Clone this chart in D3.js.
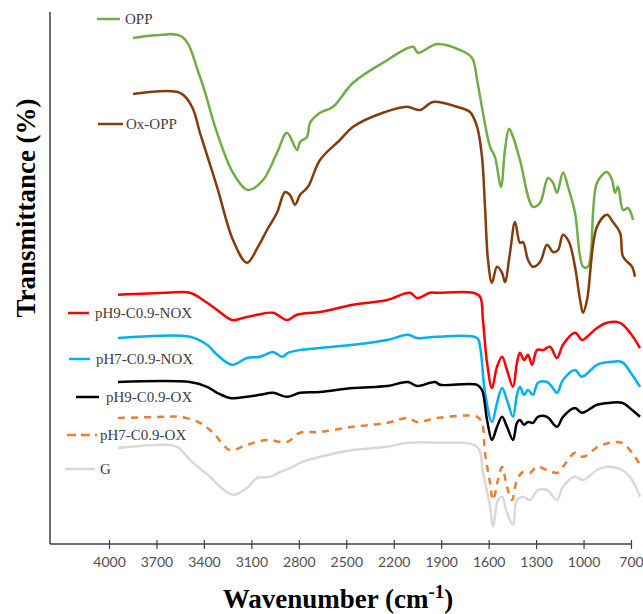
<!DOCTYPE html>
<html lang="en">
<head>
    <meta charset="utf-8">
    <title>FTIR spectra</title>
    <script src="https://d3js.org/d3.v7.min.js"></script>
    <style>
        body { margin: 0; background: #fff; }
    </style>
</head>
<body>
<div id="chart"></div>
<script>

    // Wavenumber ticks (cm-1), axis runs from 4000 down to 700
    const xTicks = [4000, 3700, 3400, 3100, 2800, 2500, 2200, 1900, 1600, 1300, 1000, 700];

    // Series, [wavenumber, transmittance (offset, a.u.)]
    const opp = [
        [3848, 126.5], [3700, 127.2], [3538, 126.8], [3425, 116.8], [3317, 102.8], [3216, 92.8],
        [3121, 88.5], [3026, 91], [2938, 97.8], [2875, 102.8], [2811, 98.5], [2792, 100.5],
        [2748, 101.8], [2729, 105.3], [2666, 107.8], [2584, 109.3], [2457, 115.3], [2268, 120.3],
        [2078, 124.3], [2046, 122.8], [1926, 125], [1781, 123.5], [1705, 121.5], [1673, 116],
        [1636, 107.8], [1591, 99.3], [1560, 96.8], [1522, 89.3], [1497, 98.5], [1471, 103.8],
        [1446, 101.8], [1402, 96], [1320, 84.3], [1275, 85.3], [1225, 91.5], [1193, 90.3],
        [1168, 87.8], [1130, 92.8], [1098, 89.3], [1054, 82.8], [1003, 69.3], [972, 69.3],
        [915, 90.3], [852, 93], [820, 91], [801, 87.8], [782, 89.3], [750, 83.5], [719, 84], [687, 81]
    ];
    const oxOpp = [
        [3848, 112.5], [3551, 112.8], [3475, 109.3], [3425, 102.8], [3317, 89.3], [3216, 76],
        [3128, 70.3], [3058, 74.3], [3001, 78.5], [2938, 82.8], [2887, 88], [2856, 87.3],
        [2824, 84.8], [2792, 87.3], [2742, 89.3], [2666, 96], [2540, 101], [2457, 104.3],
        [2268, 107.8], [2116, 109.3], [2034, 108.5], [1952, 110.5], [1800, 109.3], [1718, 108],
        [1673, 104.3], [1642, 96.8], [1623, 84.3], [1604, 71], [1579, 65.3], [1547, 69.3],
        [1515, 67.8], [1497, 65.5], [1465, 72.8], [1433, 80.5], [1402, 75.3], [1383, 75.5],
        [1351, 71], [1320, 69.3], [1275, 70.5], [1231, 74.8], [1193, 73], [1161, 73.5],
        [1130, 77.3], [1092, 75.5], [1054, 69.3], [1022, 61], [1003, 57.8], [978, 61],
        [915, 79.3], [852, 82.3], [814, 80.5], [769, 77.8], [750, 71.8], [693, 69.3], [675, 66.8]
    ];
    const ph9Nox = [
        [3943, 62.3], [3633, 62.8], [3488, 62.8], [3380, 60.3], [3317, 58.5], [3222, 56],
        [3153, 56.5], [3064, 57.3], [2963, 57.8], [2875, 56], [2811, 57.3], [2666, 58],
        [2457, 59.8], [2242, 61], [2097, 62.8], [2053, 61.5], [1971, 62.8], [1926, 62.8],
        [1699, 62.8], [1654, 61.8], [1636, 56], [1610, 45.3], [1579, 39], [1547, 44.3],
        [1515, 46.8], [1484, 43.5], [1446, 39.3], [1421, 45.3], [1402, 47.8], [1376, 46],
        [1351, 47.3], [1326, 44.8], [1294, 48.5], [1256, 48.5], [1212, 49.3], [1168, 46.5],
        [1130, 49.8], [1054, 52.8], [1010, 51], [978, 51.8], [915, 54], [852, 55.3],
        [769, 55.3], [706, 52.8], [643, 49]
    ];
    const ph7Nox = [
        [3943, 51.5], [3488, 51.8], [3380, 49.8], [3317, 47.3], [3222, 44.8], [3128, 46.5],
        [3045, 46.8], [2963, 48], [2906, 46.8], [2868, 47.8], [2792, 48.5], [2666, 49],
        [2457, 49.8], [2242, 51], [2110, 52.3], [2053, 51.5], [1926, 51.8], [1673, 51.5],
        [1654, 49.3], [1623, 37.8], [1579, 30.5], [1547, 35.3], [1515, 39], [1484, 36],
        [1446, 31.8], [1421, 37.3], [1402, 39.3], [1376, 37.3], [1351, 38.5], [1320, 37.3],
        [1288, 40.3], [1231, 40.5], [1199, 39.3], [1168, 37.8], [1130, 41], [1054, 43.5],
        [1010, 41.8], [915, 44.8], [833, 45.5], [757, 45.5], [693, 42.3], [643, 39.3]
    ];
    const ph9Ox = [
        [3943, 40.5], [3488, 40.5], [3380, 39.3], [3317, 37.8], [3235, 36.5], [3128, 36.8],
        [3045, 37.3], [2963, 37.8], [2875, 36.8], [2792, 37.8], [2666, 38], [2457, 39],
        [2242, 39.5], [2110, 40.5], [2053, 39.5], [1939, 40.5], [1907, 39.8], [1673, 39.8],
        [1642, 38.5], [1610, 31], [1579, 26], [1547, 29.3], [1515, 31.8], [1484, 29.3],
        [1446, 26], [1421, 30.3], [1402, 31], [1376, 29.8], [1351, 30.5], [1320, 30.3],
        [1288, 31.8], [1231, 31.8], [1168, 29.3], [1130, 31.8], [1054, 34], [1010, 32.8],
        [915, 34.8], [833, 35.3], [757, 35.3], [693, 33.5], [643, 31.8]
    ];
    const ph7Ox = [
        [3943, 31.5], [3633, 31.8], [3551, 31.8], [3425, 30.3], [3342, 27.8], [3235, 23.5],
        [3128, 24.8], [3001, 26], [2875, 25.5], [2792, 27.8], [2666, 28], [2457, 29.3],
        [2242, 30.3], [2110, 31.5], [2053, 30.5], [1926, 31.5], [1673, 31.8], [1642, 30.3],
        [1623, 22.8], [1591, 15.3], [1572, 11], [1541, 16], [1515, 19.3], [1484, 14.3],
        [1452, 11], [1421, 16], [1383, 18], [1338, 17.8], [1294, 19.3], [1231, 18.5],
        [1168, 17.8], [1130, 19.3], [1054, 22.8], [1003, 21.8], [909, 24.3], [833, 25.3],
        [757, 25.3], [693, 22.8], [643, 19.8]
    ];
    const gSample = [
        [3943, 24], [3633, 24.8], [3570, 24.3], [3469, 20.3], [3361, 16.8], [3298, 14.3],
        [3216, 12.3], [3128, 14], [3064, 16.5], [2982, 16.8], [2919, 18], [2837, 19.3],
        [2792, 20.3], [2666, 21.8], [2457, 23.5], [2242, 24.3], [2110, 25.3], [1926, 25.3],
        [1673, 24.3], [1636, 17.8], [1591, 9.3], [1572, 4.3], [1541, 11], [1515, 11.8],
        [1484, 7.8], [1446, 4.8], [1421, 11], [1383, 11.8], [1338, 11], [1288, 13.5],
        [1231, 13.5], [1168, 11], [1130, 14.3], [1054, 16.8], [1003, 16], [915, 18.5],
        [852, 19.3], [757, 18.5], [693, 16], [643, 11.8]
    ];

    const seriesNames = ["OPP", "Ox-OPP", "pH9-C0.9-NOX", "pH7-C0.9-NOX", "pH9-C0.9-OX", "pH7-C0.9-OX", "G"];
    const seriesData = [opp, oxOpp, ph9Nox, ph7Nox, ph9Ox, ph7Ox, gSample];
    const seriesColors = ["#70AD47", "#843C0C", "#FF0000", "#00B0F0", "#000000", "#ED7D31", "#D9D9D9"];

    const width = 643, height = 614;

    const svg = d3.select("#chart")
        .append("svg")
        .attr("width", width)
        .attr("height", height);

    // Scales: reversed wavenumber axis, arbitrary stacked transmittance
    const x = d3.scaleLinear().domain([4000, 700]).range([109, 631]);
    const y = d3.scaleLinear().domain([0, 133]).range([544, 12]);

    const line = d3.line()
        .x(d => x(d[0]))
        .y(d => y(d[1]))
        .curve(d3.curveCatmullRom.alpha(0.5));

    // Spectra
    svg.append("g")
        .selectAll("path")
        .data(seriesData)
        .join("path")
        .attr("d", d => line(d.slice().sort((a, b) => b[0] - a[0])))
        .attr("fill", "none")
        .attr("stroke", (d, i) => seriesColors[i])
        .attr("stroke-width", 2.5)
        .attr("stroke-linejoin", "round")
        .attr("stroke-dasharray", (d, i) => seriesNames[i] === "pH7-C0.9-OX" ? "7,6" : null);

    // Y axis line (no ticks)
    svg.append("line")
        .attr("x1", 50).attr("x2", 50)
        .attr("y1", 12).attr("y2", y(0))
        .attr("stroke", "#404040")
        .attr("stroke-width", 1.5);

    // X axis
    const xAxis = svg.append("g")
        .attr("transform", `translate(0,${y(0)})`)
        .call(d3.axisBottom(x).tickValues(xTicks).tickFormat(d3.format("d")).tickSize(5).tickSizeOuter(0));

    xAxis.select(".domain").remove();
    xAxis.append("line")
        .attr("x1", 50).attr("x2", x(700))
        .attr("stroke", "#404040")
        .attr("stroke-width", 1.5);
    xAxis.selectAll(".tick line")
        .attr("y1", -4)
        .attr("y2", 5)
        .attr("stroke", "#404040")
        .attr("stroke-width", 1.2);
    xAxis.selectAll(".tick text")
        .attr("y", 13)
        .attr("font-family", "Lato, sans-serif")
        .attr("font-size", 14)
        .attr("fill", "#505050");

    // Axis titles
    const xTitle = svg.append("text")
        .attr("x", 338)
        .attr("y", 608)
        .attr("text-anchor", "middle")
        .attr("font-family", "'Liberation Serif', serif")
        .attr("font-weight", "bold")
        .attr("font-size", 27)
        .attr("fill", "#000");
    xTitle.append("tspan").text("Wavenumber (cm");
    xTitle.append("tspan").attr("font-size", 19).attr("dy", -10).text("-1");
    xTitle.append("tspan").attr("dy", 10).text(")");

    svg.append("text")
        .attr("transform", "translate(35,208) rotate(-90)")
        .attr("text-anchor", "middle")
        .attr("font-family", "'Liberation Serif', serif")
        .attr("font-weight", "bold")
        .attr("font-size", 27)
        .attr("fill", "#000")
        .text("Transmittance (%)");

    // Legend entries placed next to each spectrum
    const legendX1 = [97, 98, 68, 69, 76, 67, 65];
    const legendX2 = [120, 123, 89, 90, 99, 97, 95];
    const legendY = [19, 124, 313, 359, 397, 435, 469];
    const legendTextX = [125, 126, 95, 96, 106, 100, 100];

    const legend = svg.append("g")
        .selectAll("g")
        .data(seriesNames)
        .join("g");

    legend.append("line")
        .attr("x1", (d, i) => legendX1[i])
        .attr("x2", (d, i) => legendX2[i])
        .attr("y1", (d, i) => legendY[i])
        .attr("y2", (d, i) => legendY[i])
        .attr("stroke", (d, i) => seriesColors[i])
        .attr("stroke-width", 2.5)
        .attr("stroke-dasharray", d => d === "pH7-C0.9-OX" ? "9,5" : null);

    legend.append("text")
        .attr("x", (d, i) => legendTextX[i])
        .attr("y", (d, i) => legendY[i] + 5)
        .attr("font-family", "'Liberation Serif', serif")
        .attr("font-size", 15)
        .attr("fill", "#404040")
        .text(d => d);

</script>
</body>
</html>
